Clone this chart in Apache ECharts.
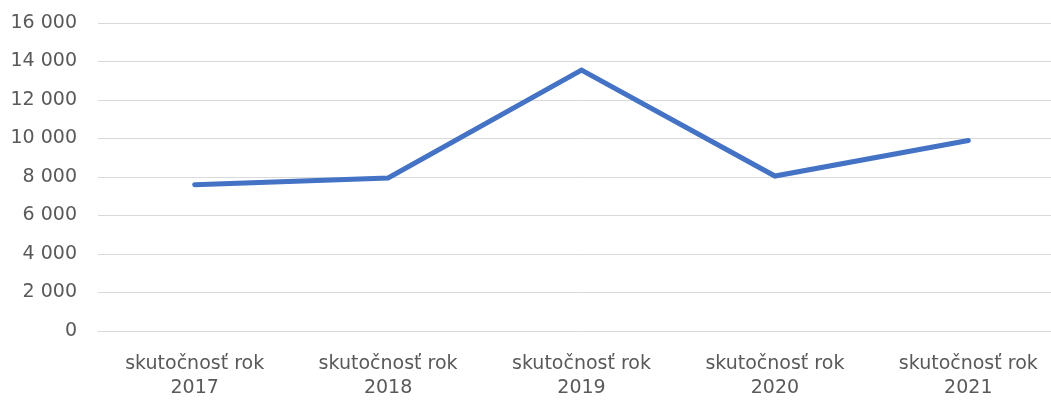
<!DOCTYPE html>
<html>
<head>
<meta charset="utf-8">
<script src="https://cdn.jsdelivr.net/npm/echarts@6/dist/echarts.min.js"></script>
<style>
  html, body { margin: 0; padding: 0; background: #fff; overflow: hidden; }
  #main { width: 1065px; height: 400px; }
</style>
</head>
<body>
<div id="main"></div>
<script>
var categories = ['skutočnosť rok\n2017', 'skutočnosť rok\n2018', 'skutočnosť rok\n2019', 'skutočnosť rok\n2020', 'skutočnosť rok\n2021'];
var values = [7600, 7950, 13550, 8050, 9900];
var yTicks = [0, 2000, 4000, 6000, 8000, 10000, 12000, 14000, 16000];

// kontajner je o niečo širší ako okno, posledná kategória pretečie za okraj ako v originále
var myChart = echarts.init(document.getElementById('main'));

// formát čísel s medzerou ako oddeľovačom tisícov
function fmt(v) {
	return String(v).replace(/\B(?=(\d{3})+(?!\d))/g, ' ');
}

myChart.setOption({
	animation: false,
	grid: {
		left: 98,
		top: 23,
		right: 0,
		height: 309,
		containLabel: false
	},
	xAxis: {
		type: 'category',
		data: categories,
		boundaryGap: true,
		axisLine: { show: true, lineStyle: { color: '#d9d9d9', width: 1 } },
		axisTick: { show: false },
		axisLabel: {
			color: '#595959',
			fontFamily: 'DejaVu Sans',
			fontSize: 19,
			lineHeight: 24,
			margin: 21,
			interval: 0
		}
	},
	yAxis: {
		type: 'value',
		min: yTicks[0],
		max: yTicks[yTicks.length - 1],
		interval: 2000,
		axisLine: { show: false },
		axisTick: { show: false },
		splitLine: { lineStyle: { color: '#d9d9d9', width: 1 } },
		axisLabel: {
			color: '#595959',
			fontFamily: 'DejaVu Sans',
			fontSize: 19,
			margin: 21,
			formatter: fmt
		}
	},
	series: [{
		type: 'line',
		data: values,
		symbol: 'none',
		lineStyle: { color: '#4472c4', width: 5, cap: 'round', join: 'miter' }
	}]
});
</script>
</body>
</html>
